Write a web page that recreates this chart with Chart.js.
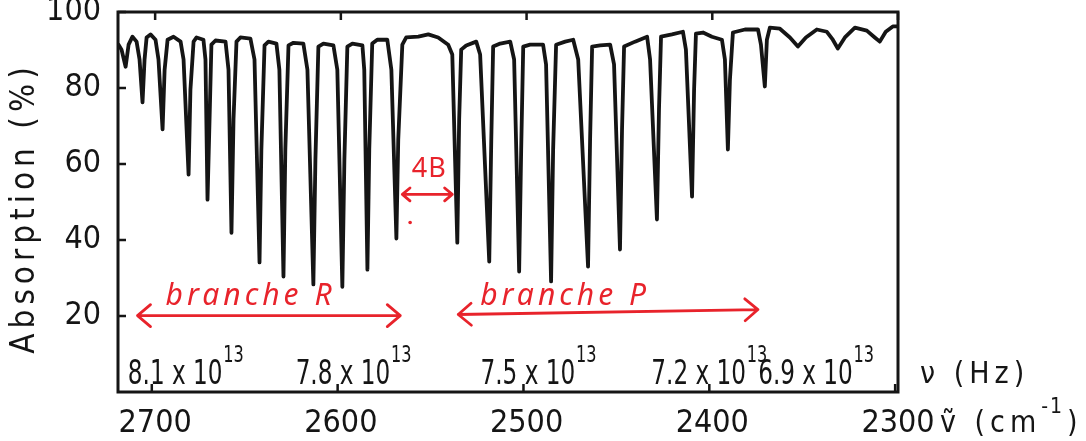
<!DOCTYPE html>
<html>
<head>
<meta charset="utf-8">
<script src="https://cdn.jsdelivr.net/npm/chart.js@4.4.1/dist/chart.umd.min.js"></script>
<style>
  html, body { margin: 0; padding: 0; background: #fff; }
  canvas { display: block; }
</style>
</head>
<body>
<canvas id="spectrum" width="1086" height="441"></canvas>
<script>
// spectrum: wavenumber (cm-1) and absorption (%)
const wavenumbers = [
  2719.7, 2718.1, 2715.9, 2714.3, 2712.2, 2710.0, 2708.4, 2706.8, 2705.7, 2704.6,
  2702.5, 2699.8, 2698.2, 2696.0, 2694.9, 2693.3, 2690.1, 2686.3, 2684.7, 2682.0,
  2681.0, 2679.3, 2677.7, 2674.0, 2672.9, 2671.8, 2670.7, 2669.7, 2667.5, 2662.1,
  2660.5, 2658.9, 2657.8, 2656.2, 2654.1, 2648.7, 2646.5, 2643.8, 2642.8, 2641.1,
  2639.0, 2634.7, 2633.1, 2630.9, 2629.9, 2628.2, 2625.5, 2620.2, 2618.0, 2614.8,
  2613.7, 2612.1, 2609.4, 2604.0, 2601.9, 2599.2, 2598.1, 2596.5, 2593.8, 2588.4,
  2587.4, 2585.7, 2584.7, 2583.1, 2580.4, 2575.0, 2572.8, 2570.1, 2569.1, 2566.9,
  2564.8, 2558.3, 2552.9, 2547.6, 2542.2, 2540.0,
  2537.3, 2536.3, 2535.2, 2532.5, 2527.1, 2525.0, 2520.1, 2519.0, 2518.0, 2514.2,
  2508.8, 2506.7, 2504.0, 2502.9, 2501.8, 2498.1, 2491.1, 2489.5, 2486.8, 2485.7,
  2484.1, 2479.2, 2474.9, 2472.2, 2466.9, 2465.8, 2464.7, 2460.4, 2455.0, 2452.9,
  2449.7, 2448.6, 2447.5, 2441.6, 2435.1, 2433.5, 2429.8, 2428.7, 2427.6, 2421.7,
  2415.8, 2414.2, 2410.9, 2409.8, 2408.8, 2405.0, 2400.2, 2394.8, 2393.2, 2391.6,
  2390.5, 2388.9, 2382.4, 2375.4, 2373.8, 2371.7, 2370.6, 2369.0, 2363.6, 2358.2,
  2353.9, 2349.6, 2343.7, 2338.3, 2335.1, 2332.4, 2328.6, 2323.2, 2316.8, 2312.5,
  2309.8, 2306.6, 2302.8, 2300.6
];
const absorption = [
  91.4, 90.1, 85.6, 91.4, 93.5, 92.2, 87.5, 76.2, 87.5, 93.3,
  94.1, 92.7, 87.5, 69.1, 84.8, 92.7, 93.5, 92.2, 87.5, 57.2,
  79.6, 92.2, 93.3, 92.7, 87.5, 50.6, 71.7, 91.4, 92.5, 92.2,
  84.8, 41.9, 71.7, 92.2, 93.3, 93.0, 87.5, 34.1, 63.8, 91.2,
  92.2, 91.7, 84.8, 30.4, 63.8, 91.2, 91.9, 91.7, 84.8, 28.3,
  61.2, 90.9, 91.7, 91.2, 84.8, 27.7, 61.2, 90.9, 91.7, 91.2,
  84.8, 32.2, 63.8, 91.7, 92.7, 92.7, 84.8, 40.4, 66.4, 91.4,
  93.3, 93.5, 94.1, 93.3, 91.4, 88.8,
  39.3, 71.7, 90.1, 91.2, 92.2, 88.8, 34.3, 66.4, 90.9, 91.7,
  92.2, 87.5, 31.7, 63.8, 90.9, 91.4, 91.4, 86.2, 29.1, 63.8,
  91.4, 92.2, 92.7, 87.5, 33.0, 66.4, 90.9, 91.2, 91.4, 86.2,
  37.5, 69.1, 90.9, 92.2, 93.5, 87.5, 45.4, 74.3, 93.5, 94.1,
  94.8, 90.1, 51.4, 79.6, 94.3, 94.6, 93.5, 92.7, 87.5, 63.8,
  82.2, 94.6, 95.4, 95.4, 91.4, 80.4, 92.7, 95.9, 95.6, 93.3,
  90.9, 93.3, 95.4, 94.8, 92.7, 90.4, 93.3, 95.9, 95.1, 93.3,
  92.2, 94.8, 96.2, 96.2
];
const cmTicks = [2700, 2600, 2500, 2400, 2300];
const absTicks = [20, 40, 60, 80, 100];
const hzTicks = [8.1, 7.8, 7.5, 7.2, 6.9];   // x 10^13 Hz
const C_CM = 2.998e10;                       // cm/s

const INK = '#151515';
const RED = '#e8232b';
const FONT = "'DejaVu Sans Condensed', 'DejaVu Sans', sans-serif";
const HAND = "'Noto Sans', 'DejaVu Sans', sans-serif";

// where each Hz label starts, relative to its tick
const hzShift = [-24, -42, -43, -58, -137];

function arrow(ctx, p1, p2, len, atStart, atEnd) {
  const ang = Math.atan2(p2[1] - p1[1], p2[0] - p1[0]);
  const spread = 0.7;
  ctx.beginPath();
  ctx.moveTo(p1[0], p1[1]);
  ctx.lineTo(p2[0], p2[1]);
  const head = (p, a) => {
    ctx.moveTo(p[0] + len * Math.cos(a + spread), p[1] + len * Math.sin(a + spread));
    ctx.lineTo(p[0], p[1]);
    ctx.lineTo(p[0] + len * Math.cos(a - spread), p[1] + len * Math.sin(a - spread));
  };
  if (atStart) head(p1, ang);
  if (atEnd) head(p2, ang + Math.PI);
  ctx.stroke();
}

const decor = {
  id: 'decor',
  afterDraw(chart) {
    const { ctx, chartArea: a, scales: { x, y } } = chart;
    const P = (w, v) => [x.getPixelForValue(w), y.getPixelForValue(v)];
    ctx.save();

    // frame and inward ticks
    ctx.strokeStyle = INK;
    ctx.lineWidth = 3;
    ctx.strokeRect(a.left, a.top, a.right - a.left, a.bottom - a.top);
    ctx.lineWidth = 2.5;
    ctx.beginPath();
    absTicks.forEach(v => {
      const py = y.getPixelForValue(v);
      ctx.moveTo(a.left, py); ctx.lineTo(a.left + 8, py);
    });
    cmTicks.forEach(v => {
      const px = x.getPixelForValue(v);
      ctx.moveTo(px, a.top); ctx.lineTo(px, a.top + 8);
    });
    hzTicks.forEach(v => {
      const px = x.getPixelForValue(v * 1e13 / C_CM);
      ctx.moveTo(px, a.bottom); ctx.lineTo(px, a.bottom - 8);
    });
    ctx.stroke();

    // frequency labels inside the frame (narrow lettering, as in the scan)
    ctx.fillStyle = INK;
    ctx.textAlign = 'left';
    ctx.textBaseline = 'alphabetic';
    hzTicks.forEach((v, i) => {
      const px = x.getPixelForValue(v * 1e13 / C_CM) + hzShift[i];
      ctx.save();
      ctx.translate(px, a.bottom - 8);
      ctx.scale(0.78, 1);
      ctx.font = `33px ${FONT}`;
      const txt = v.toFixed(1) + ' x 10';
      ctx.fillText(txt, 0, 0);
      const w = ctx.measureText(txt).width;
      ctx.font = `23px ${FONT}`;
      ctx.fillText('13', w + 1, -22);
      ctx.restore();
    });

    // unit labels
    ctx.letterSpacing = '5px';
    ctx.font = `30px ${FONT}`;
    ctx.fillText('ν (Hz)', a.right + 22, a.bottom - 9);
    let ux = a.right + 42;
    ctx.fillText('ṽ (cm', ux, a.bottom + 40);
    ux += ctx.measureText('ṽ (cm').width;
    ctx.font = `21px ${FONT}`;
    ctx.letterSpacing = '2px';
    ctx.fillText('-1', ux, a.bottom + 21);
    ux += ctx.measureText('-1').width + 3;
    ctx.font = `30px ${FONT}`;
    ctx.fillText(')', ux, a.bottom + 40);

    // y title
    ctx.save();
    ctx.translate(25, 208);
    ctx.rotate(-Math.PI / 2);
    ctx.letterSpacing = '5px';
    ctx.font = `33px ${FONT}`;
    ctx.textAlign = 'center';
    ctx.textBaseline = 'middle';
    ctx.fillText('Absorption (%)', 0, 0);
    ctx.restore();

    // red hand annotations
    ctx.strokeStyle = RED;
    ctx.fillStyle = RED;
    ctx.lineWidth = 2.8;
    ctx.lineCap = 'round';
    ctx.lineJoin = 'round';
    arrow(ctx, P(2709.5, 20.1), P(2568.0, 20.1), 17, true, true);
    arrow(ctx, P(2536.8, 20.4), P(2375.4, 21.7), 17, true, true);
    arrow(ctx, P(2566.9, 52.0), P(2540.0, 52.0), 10, true, true);
    const dot = P(2562.7, 44.6);
    ctx.beginPath(); ctx.arc(dot[0], dot[1], 1.8, 0, Math.PI * 2); ctx.fill();

    ctx.letterSpacing = '4px';
    ctx.font = `italic 30px ${HAND}`;
    ctx.textAlign = 'left';
    ctx.textBaseline = 'alphabetic';
    let t = P(2694.4, 23.0);
    ctx.fillText('branche R', t[0], t[1]);
    t = P(2525.0, 23.0);
    ctx.fillText('branche P', t[0], t[1]);
    ctx.letterSpacing = '1px';
    ctx.font = `27px ${HAND}`;
    ctx.textAlign = 'center';
    t = P(2552.4, 56.7);
    ctx.fillText('4B', t[0], t[1]);

    ctx.restore();
  }
};

new Chart(document.getElementById('spectrum'), {
  type: 'line',
  data: {
    datasets: [{
      data: wavenumbers.map((w, i) => ({ x: w, y: absorption[i] })),
      borderColor: INK,
      borderWidth: 3.8,
      pointRadius: 0,
      tension: 0,
      borderJoinStyle: 'round',
      borderCapStyle: 'round'
    }]
  },
  options: {
    responsive: false,
    animation: false,
    devicePixelRatio: 1,
    layout: { padding: { top: 12, right: 188, left: 0, bottom: 0 } },
    plugins: { legend: { display: false }, tooltip: { enabled: false } },
    scales: {
      x: {
        type: 'linear',
        reverse: true,
        min: 2300,
        max: 2720,
        afterBuildTicks: s => { s.ticks = cmTicks.map(v => ({ value: v })); },
        afterFit: s => { s.height = 49; s.paddingLeft = 0; s.paddingRight = 0; },
        grid: { display: false, drawTicks: false },
        border: { display: false },
        ticks: {
          padding: 12,
          color: INK,
          maxRotation: 0,
          autoSkip: false,
          font: { family: FONT, size: 32 },
          callback: v => String(v)
        }
      },
      y: {
        min: 0,
        max: 100,
        afterBuildTicks: s => { s.ticks = absTicks.map(v => ({ value: v })); },
        afterFit: s => { s.width = 118; s.paddingTop = 0; s.paddingBottom = 0; },
        grid: { display: false, drawTicks: false },
        border: { display: false },
        ticks: {
          padding: 17,
          color: INK,
          font: { family: FONT, size: 32 }
        }
      }
    }
  },
  plugins: [decor]
});
</script>
</body>
</html>
